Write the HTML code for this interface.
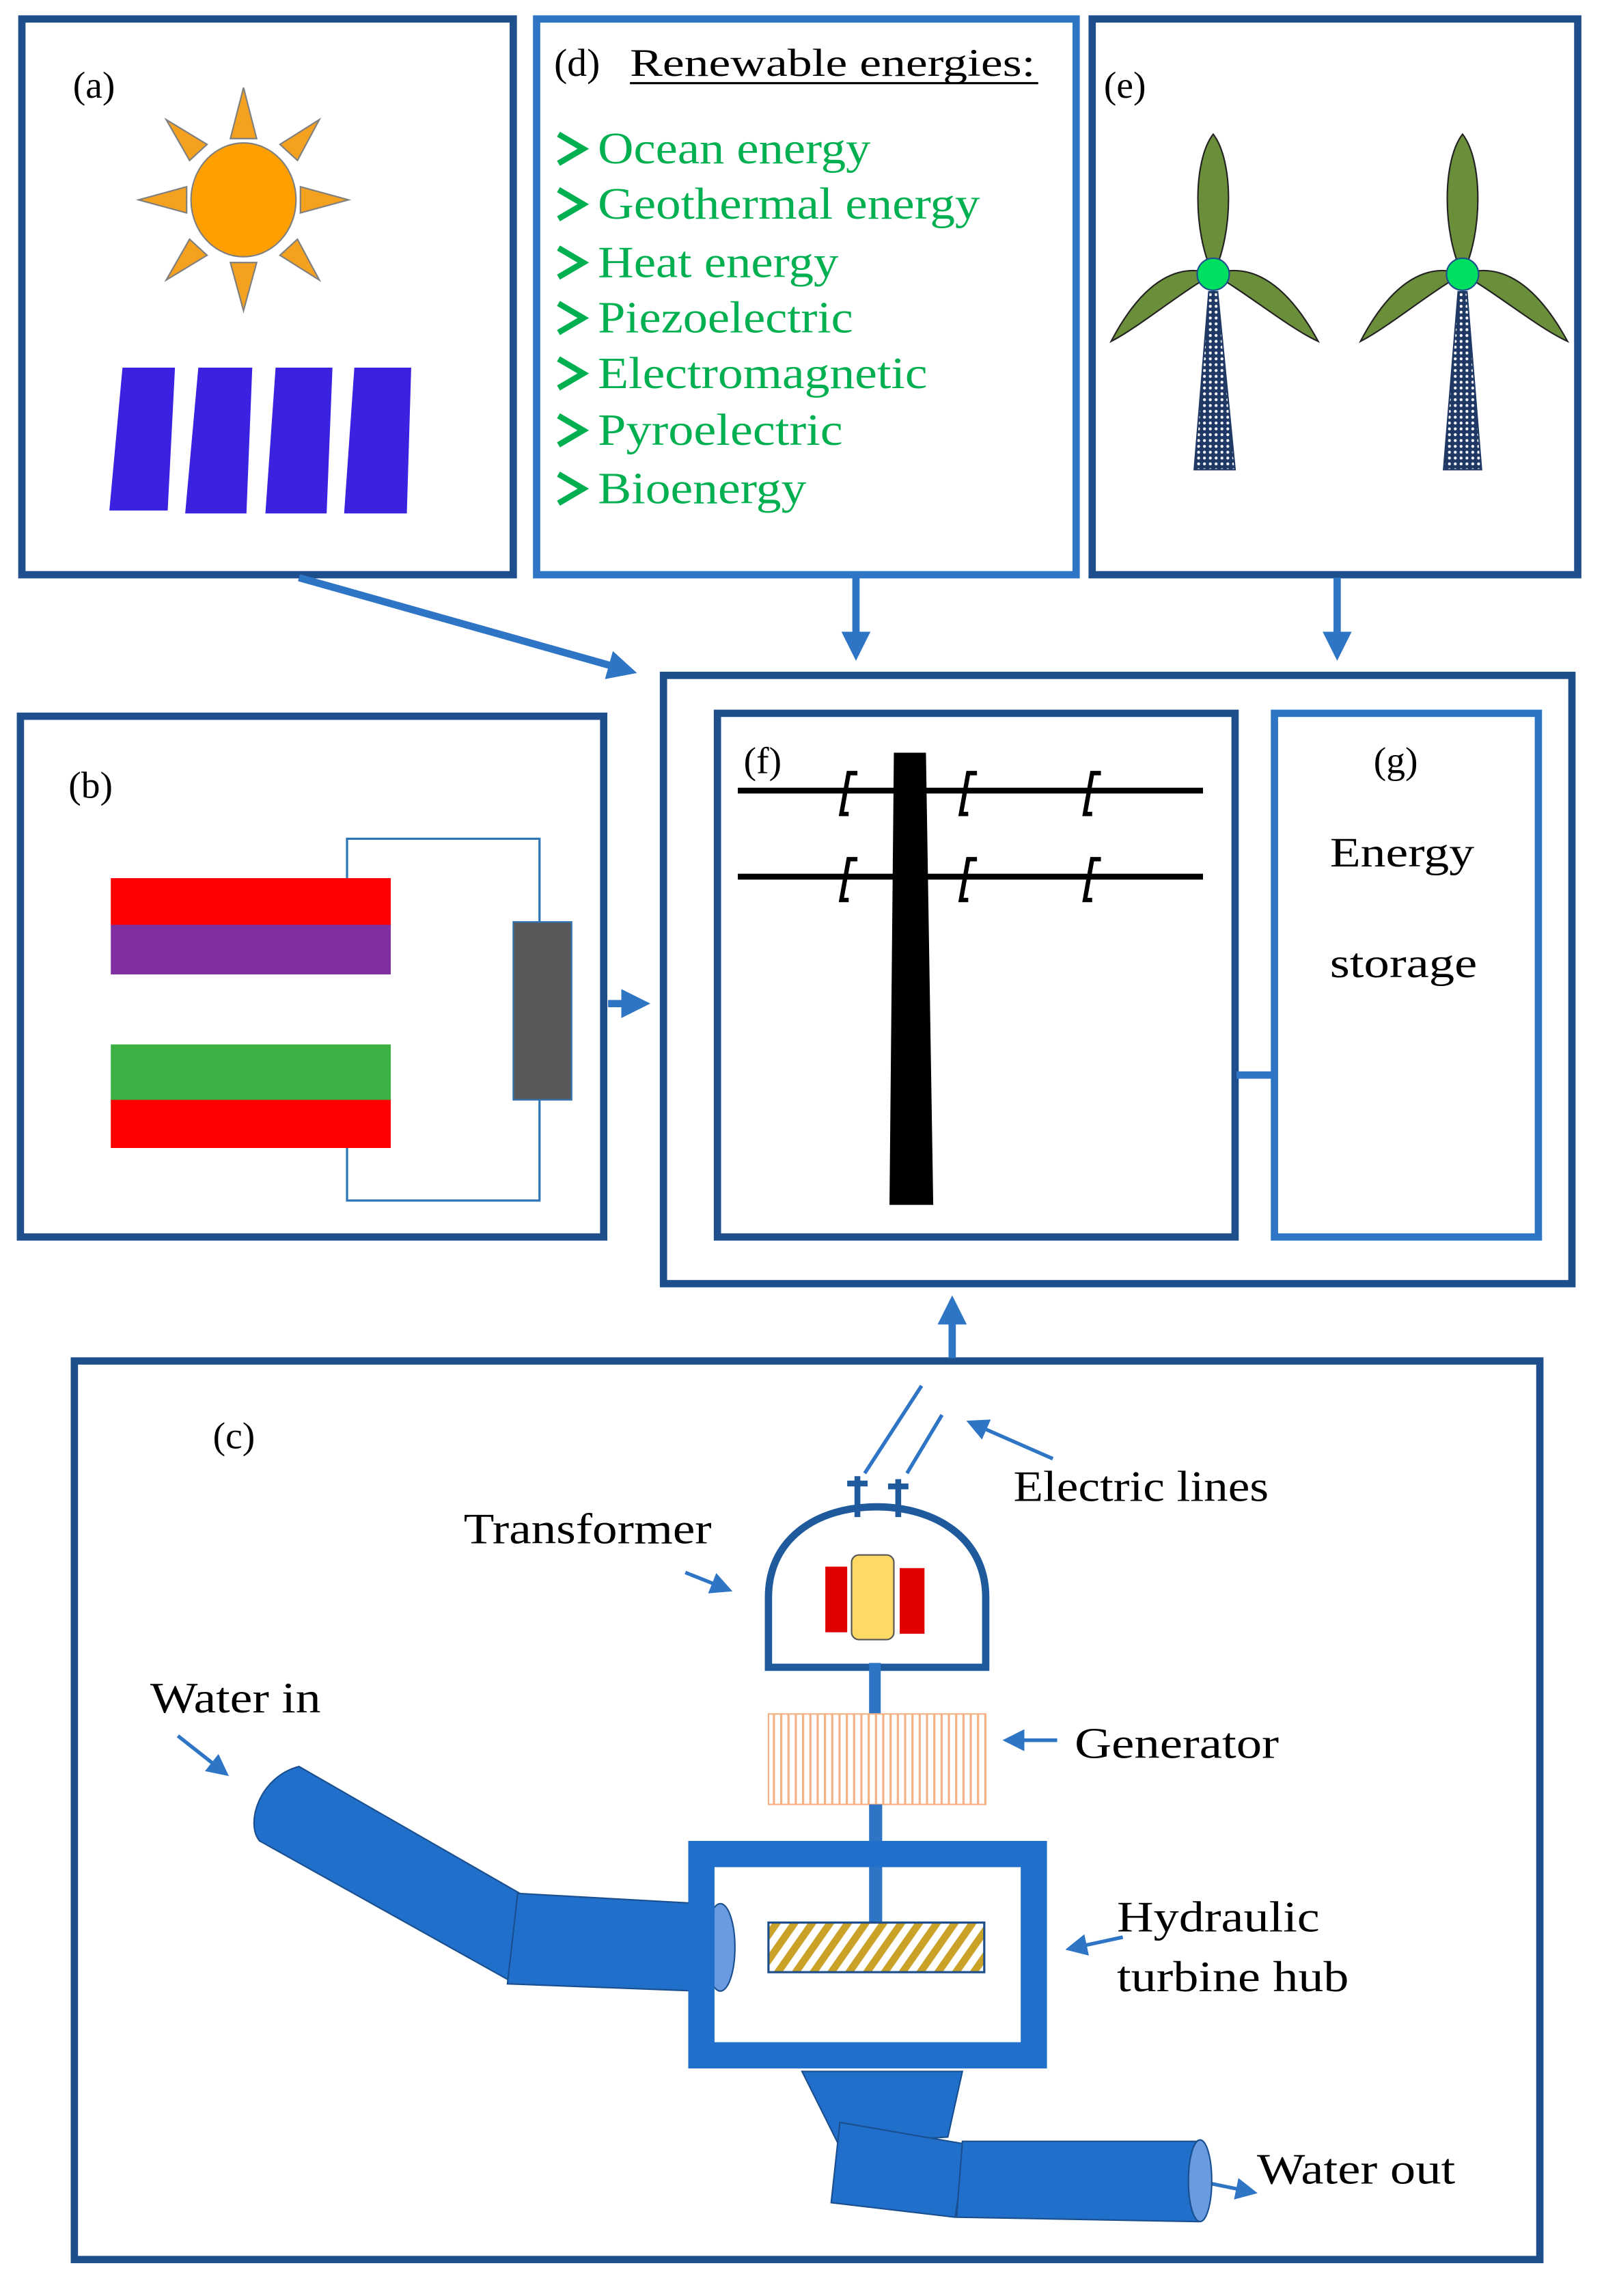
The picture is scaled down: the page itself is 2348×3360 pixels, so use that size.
<!DOCTYPE html>
<html><head><meta charset="utf-8"><style>
html,body{margin:0;padding:0;background:#fff;}
svg{display:block;}
text{font-family:"Liberation Serif",serif;}
</style></head><body>
<svg width="2348" height="3360" viewBox="0 0 1100 1574" preserveAspectRatio="none" xmlns="http://www.w3.org/2000/svg">
<defs>
<marker id="ah" markerWidth="4" markerHeight="4" refX="3" refY="2" orient="auto" markerUnits="strokeWidth"><path d="M0,0 L4,2 L0,4 z" fill="#2E75C6"/></marker>
<marker id="ahs" markerWidth="6" markerHeight="6" refX="5" refY="3" orient="auto" markerUnits="strokeWidth"><path d="M0,0 L6,3 L0,6 z" fill="#2E75C6"/></marker>
<pattern id="dots" width="4" height="4" patternUnits="userSpaceOnUse"><rect width="4" height="4" fill="#1F3864"/><circle cx="2" cy="2" r="1" fill="#fff"/></pattern>
<pattern id="vstripe" width="5" height="10" patternUnits="userSpaceOnUse"><rect width="5" height="10" fill="#fff"/><rect width="1.5" height="10" fill="#F4B183"/></pattern>
<pattern id="diag" width="10" height="10" patternUnits="userSpaceOnUse" patternTransform="rotate(35)"><rect width="10" height="10" fill="#fff"/><rect width="5" height="10" fill="#C9A227"/></pattern>
</defs>

<g fill="none" stroke-width="5">
<rect x="15" y="13" width="337" height="381" stroke="#1F4E8C"/>
<rect x="368" y="13" width="370" height="381" stroke="#2E75C6"/>
<rect x="749" y="13" width="333" height="381" stroke="#1F4E8C"/>
<rect x="455" y="463" width="623" height="417" stroke="#1F4E8C"/>
<rect x="14" y="491" width="400" height="357" stroke="#1F4E8C"/>
<rect x="492" y="489" width="355" height="359" stroke="#1F4E8C"/>
<rect x="874" y="489" width="181" height="359" stroke="#2E75C6"/>
<rect x="51" y="933" width="1005" height="616" stroke="#1F4E8C"/>
</g>

<g stroke="#2E75C6" stroke-width="5" fill="none">
<line x1="205" y1="396" x2="432" y2="460" marker-end="url(#ah)"/>
<line x1="587" y1="396" x2="587" y2="448" marker-end="url(#ah)"/>
<line x1="917" y1="396" x2="917" y2="448" marker-end="url(#ah)"/>
<line x1="417" y1="688" x2="441" y2="688" marker-end="url(#ah)"/>
<line x1="653" y1="931" x2="653" y2="893" marker-end="url(#ah)"/>
<line x1="848" y1="737" x2="873" y2="737"/>
</g>

<text x="50" y="67" font-size="26">(a)</text>
<g fill="#F4A11F" stroke="#7F7F7F" stroke-width="1">
<polygon points="158,95 176,95 167,60"/>
<polygon points="158,180 176,180 167,213"/>
<polygon points="128,128 128,146 95,137"/>
<polygon points="206,128 206,146 239,137"/>
<polygon points="130,110 142,99 114,82"/>
<polygon points="192,99 204,110 219,82"/>
<polygon points="130,164 142,175 114,192"/>
<polygon points="192,175 204,164 219,192"/>
<ellipse cx="167" cy="137" rx="36" ry="39" fill="#FFA000"/>
</g>
<g fill="#3A22E0">
<polygon points="84,252 120,252 115,350 75,350"/>
<polygon points="136,252 173,252 169,352 127,352"/>
<polygon points="189,252 228,252 224,352 182,352"/>
<polygon points="243,252 282,252 279,352 236,352"/>
</g>

<text x="380" y="52" font-size="27">(d)</text>
<text x="432" y="52" font-size="27" textLength="278" lengthAdjust="spacingAndGlyphs">Renewable energies:</text>
<line x1="432" y1="57" x2="712" y2="57" stroke="#000" stroke-width="1.5"/>
<g font-size="31" fill="#00B050">
<text x="410" y="112" textLength="187" lengthAdjust="spacingAndGlyphs">Ocean energy</text>
<text x="410" y="150" textLength="262" lengthAdjust="spacingAndGlyphs">Geothermal energy</text>
<text x="410" y="190" textLength="165" lengthAdjust="spacingAndGlyphs">Heat energy</text>
<text x="410" y="228" textLength="175" lengthAdjust="spacingAndGlyphs">Piezoelectric</text>
<text x="410" y="266" textLength="226" lengthAdjust="spacingAndGlyphs">Electromagnetic</text>
<text x="410" y="305" textLength="168" lengthAdjust="spacingAndGlyphs">Pyroelectric</text>
<text x="410" y="345" textLength="143" lengthAdjust="spacingAndGlyphs">Bioenergy</text>
</g>
<g fill="none" stroke="#00B050" stroke-width="4">
<polyline points="383,92 400,102 383,112"/>
<polyline points="383,130 400,140 383,150"/>
<polyline points="383,170 400,180 383,190"/>
<polyline points="383,208 400,218 383,228"/>
<polyline points="383,246 400,256 383,266"/>
<polyline points="383,285 400,295 383,305"/>
<polyline points="383,325 400,335 383,345"/>
</g>

<text x="757" y="67" font-size="26">(e)</text>
<g>
<polygon points="819,322 847,322 835,200 829,200" fill="url(#dots)" stroke="#1F3864" stroke-width="1"/>
<g fill="#6B8E3A" stroke="#222" stroke-width="1">
<path d="M832,188 C818,160 818,110 832,92 C846,110 846,160 832,188z"/>
<path d="M832,188 C810,200 780,225 762,234 C785,190 810,180 832,188z"/>
<path d="M832,188 C854,200 884,225 904,234 C880,190 855,180 832,188z"/>
</g>
<circle cx="832" cy="188" r="11" fill="#00E060" stroke="#1F4E8C" stroke-width="1"/>
<polygon points="990,322 1016,322 1006,200 1000,200" fill="url(#dots)" stroke="#1F3864" stroke-width="1"/>
<g fill="#6B8E3A" stroke="#222" stroke-width="1">
<path d="M1003,188 C989,160 989,110 1003,92 C1017,110 1017,160 1003,188z"/>
<path d="M1003,188 C981,200 951,225 933,234 C956,190 981,180 1003,188z"/>
<path d="M1003,188 C1025,200 1055,225 1075,234 C1051,190 1026,180 1003,188z"/>
</g>
<circle cx="1003" cy="188" r="11" fill="#00E060" stroke="#1F4E8C" stroke-width="1"/>
</g>

<text x="47" y="547" font-size="26">(b)</text>
<rect x="76" y="602" width="192" height="33" fill="#FF0000"/>
<rect x="76" y="634" width="192" height="34" fill="#7F2F9F"/>
<rect x="76" y="716" width="192" height="39" fill="#3CB043"/>
<rect x="76" y="754" width="192" height="33" fill="#FF0000"/>
<polyline points="238,602 238,575 370,575 370,632" fill="none" stroke="#2E75B6" stroke-width="1.5"/>
<polyline points="238,787 238,823 370,823 370,754" fill="none" stroke="#2E75B6" stroke-width="1.5"/>
<rect x="352" y="632" width="40" height="122" fill="#595959" stroke="#2E75B6" stroke-width="1"/>

<text x="510" y="530" font-size="26">(f)</text>
<line x1="506" y1="542" x2="825" y2="542" stroke="#000" stroke-width="4"/>
<line x1="506" y1="601" x2="825" y2="601" stroke="#000" stroke-width="4"/>
<polygon points="613,516 635,516 640,826 610,826" fill="#000"/>
<g fill="none" stroke="#000" stroke-width="3">
<polyline points="588,530 582,530 577,558 582,558"/>
<polyline points="670,530 664,530 659,558 664,558"/>
<polyline points="755,530 749,530 744,558 749,558"/>
<polyline points="588,589 582,589 577,617 582,617"/>
<polyline points="670,589 664,589 659,617 664,617"/>
<polyline points="755,589 749,589 744,617 749,617"/>
</g>

<text x="942" y="530" font-size="26">(g)</text>
<text x="912" y="594" font-size="29" textLength="99" lengthAdjust="spacingAndGlyphs">Energy</text>
<text x="912" y="670" font-size="29" textLength="101" lengthAdjust="spacingAndGlyphs">storage</text>

<text x="146" y="993" font-size="26">(c)</text>
<g stroke="#2E75C6" stroke-width="2.5" fill="none">
<line x1="632" y1="950" x2="593" y2="1010"/>
<line x1="646" y1="970" x2="622" y2="1010"/>
<line x1="722" y1="1000" x2="665" y2="975" marker-end="url(#ahs)"/>
<line x1="470" y1="1078" x2="500" y2="1090" marker-end="url(#ahs)"/>
<line x1="122" y1="1190" x2="155" y2="1216" marker-end="url(#ahs)"/>
<line x1="725" y1="1193" x2="690" y2="1193" marker-end="url(#ahs)"/>
<line x1="770" y1="1328" x2="733" y2="1336" marker-end="url(#ahs)"/>
<line x1="826" y1="1496" x2="860" y2="1503" marker-end="url(#ahs)"/>
</g>
<g stroke="#1F5A9C" stroke-width="4" fill="none">
<line x1="588" y1="1012" x2="588" y2="1040"/>
<line x1="616" y1="1014" x2="616" y2="1040"/>
<line x1="581" y1="1017" x2="595" y2="1017"/>
<line x1="609" y1="1019" x2="623" y2="1019"/>
<path d="M527,1143 L527,1095 C527,1055 560,1033 601,1033 C642,1033 676,1055 676,1095 L676,1143 Z" stroke-width="5"/>
</g>
<rect x="566" y="1074" width="15" height="45" fill="#E00000"/>
<rect x="617" y="1075" width="17" height="45" fill="#E00000"/>
<rect x="584" y="1066" width="29" height="58" rx="5" fill="#FFD966" stroke="#555" stroke-width="1"/>
<rect x="596" y="1140" width="8" height="38" fill="#2E75C6"/>
<rect x="527" y="1175" width="149" height="62" fill="url(#vstripe)" stroke="#F4B183" stroke-width="1"/>
<rect x="596" y="1237" width="9" height="82" fill="#2E75C6"/>

<g fill="#1F6FCB" stroke="#1A4F8F" stroke-width="1">
<path d="M205,1211 L360,1300 L350,1358 L178,1262 C168,1250 178,1218 205,1211 Z"/>
<path d="M355,1298 L480,1305 L480,1365 L348,1360 Z"/>
<ellipse cx="494" cy="1335" rx="10" ry="30" fill="#6A9BE0"/>
<path d="M550,1420 L660,1420 L650,1465 L575,1470 Z"/>
<path d="M576,1455 L663,1470 L655,1520 L570,1510 Z"/>
<path d="M660,1468 L822,1468 L822,1523 L656,1520 Z"/>
<ellipse cx="823" cy="1495" rx="8" ry="28" fill="#6A9BE0"/>
</g>
<rect x="481" y="1271" width="228" height="138" fill="none" stroke="#1F6FCB" stroke-width="18"/>
<rect x="527" y="1318" width="148" height="34" fill="url(#diag)" stroke="#1F4E8C" stroke-width="1.5"/>

<g font-size="30">
<text x="318" y="1058" textLength="170" lengthAdjust="spacingAndGlyphs">Transformer</text>
<text x="695" y="1029" textLength="175" lengthAdjust="spacingAndGlyphs">Electric lines</text>
<text x="103" y="1174" textLength="117" lengthAdjust="spacingAndGlyphs">Water in</text>
<text x="737" y="1205" textLength="140" lengthAdjust="spacingAndGlyphs">Generator</text>
<text x="766" y="1324" textLength="139" lengthAdjust="spacingAndGlyphs">Hydraulic</text>
<text x="766" y="1365" textLength="159" lengthAdjust="spacingAndGlyphs">turbine hub</text>
<text x="862" y="1497" textLength="136" lengthAdjust="spacingAndGlyphs">Water out</text>
</g>
</svg>
</body></html>
